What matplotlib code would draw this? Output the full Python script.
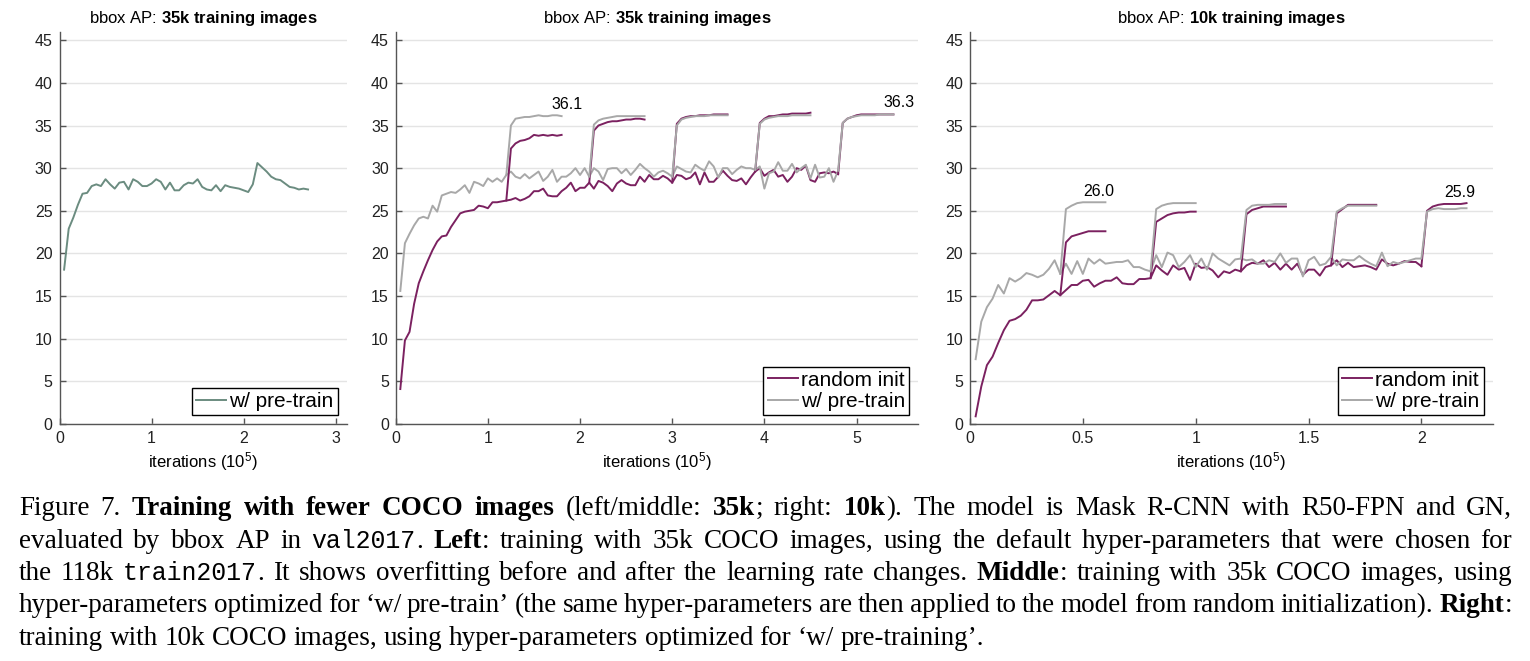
import numpy as np
import matplotlib
matplotlib.use("Agg")
import matplotlib.pyplot as plt

plt.rcParams['font.family'] = ['Liberation Sans', 'DejaVu Sans']
plt.rcParams['mathtext.fontset'] = 'custom'
plt.rcParams['mathtext.rm'] = 'Liberation Sans'
plt.rcParams['mathtext.it'] = 'Liberation Sans:italic'
plt.rcParams['mathtext.bf'] = 'Liberation Sans:bold'

W, H = 1530, 661
PURPLE = '#7b2160'
GRAY = '#a8a8a8'
GREEN = '#6b8c80'
AXCOL = '#555555'

# ---- left: 35k images, default hyper-params (x in 1e5 iterations)
left_iters = np.arange(1, 55) * 0.05
left_pre = [18.1, 22.9, 24.2, 25.7, 27.0, 27.1, 27.9, 28.1, 27.9, 28.7,
            28.1, 27.6, 28.3, 28.4, 27.5, 28.7, 28.4, 27.9, 27.9, 28.2,
            28.7, 28.4, 27.5, 28.3, 27.4, 27.4, 28.0, 28.3, 28.2, 28.7,
            27.8, 27.5, 27.4, 28.0, 27.3, 28.0, 27.8, 27.7, 27.6, 27.4,
            27.2, 28.1, 30.6, 30.1, 29.6, 29.0, 28.7, 28.6, 28.2, 27.8,
            27.7, 27.5, 27.6, 27.5]

# ---- middle: 35k images, tuned hyper-params
mid_iters = np.arange(1, 97) * 0.05
mid_rand = [4.1, 9.8, 10.8, 14.1, 16.5, 17.9, 19.2, 20.4, 21.4, 22.0,
            22.1, 23.1, 23.9, 24.7, 24.9, 25.0, 25.1, 25.6, 25.5, 25.3,
            26.0, 26.0, 26.1, 26.2, 26.3, 26.5, 26.2, 26.4, 26.7, 27.3,
            27.3, 27.6, 26.8, 26.7, 26.7, 27.3, 27.7, 28.3, 27.3, 27.7,
            27.7, 28.3, 27.6, 28.5, 28.3, 27.9, 27.3, 28.2, 28.6, 28.2,
            28.0, 28.0, 29.0, 28.4, 29.2, 28.7, 28.7, 29.1, 28.8, 28.3,
            29.2, 29.1, 28.7, 28.9, 29.5, 28.1, 29.5, 28.4, 28.4, 29.0,
            29.7, 29.1, 28.6, 28.5, 28.8, 28.1, 28.9, 29.6, 30.0, 29.1,
            29.5, 29.8, 29.0, 29.2, 28.4, 29.0, 30.0, 29.8, 30.3, 28.6,
            28.4, 29.4, 29.5, 29.4, 29.6, 29.3]
mid_pre = [15.6, 21.2, 22.3, 23.3, 24.1, 24.3, 24.1, 25.6, 24.9, 26.8,
           27.0, 27.2, 27.1, 27.5, 28.0, 27.1, 28.4, 28.2, 27.9, 28.8,
           28.4, 28.8, 28.4, 29.2, 29.6, 29.0, 28.8, 29.3, 28.8, 29.2,
           29.6, 28.5, 29.0, 29.8, 28.4, 29.0, 29.0, 29.4, 30.0, 29.2,
           30.0, 29.0, 30.0, 29.6, 28.6, 29.9, 30.0, 30.0, 29.4, 29.9,
           29.2, 29.8, 30.5, 30.0, 29.6, 29.0, 29.5, 29.7, 29.4, 29.0,
           30.2, 29.9, 29.6, 29.5, 30.4, 30.0, 29.7, 30.8, 30.2, 28.9,
           30.0, 30.0, 29.3, 29.8, 30.2, 30.0, 30.0, 29.8, 30.2, 27.6,
           29.4, 29.6, 30.7, 29.7, 29.7, 30.5, 29.5, 30.0, 30.4, 28.8,
           30.4, 28.9, 29.0, 30.0, 28.4, 29.7]
mid_starts = [1.2, 2.1, 3.0, 3.9, 4.8]
mid_branch_rand = [
    [32.3, 32.9, 33.2, 33.3, 33.5, 33.9, 33.8, 33.9, 33.8, 33.9, 33.8, 33.9],
    [34.4, 35.0, 35.2, 35.4, 35.5, 35.5, 35.6, 35.7, 35.7, 35.8, 35.8, 35.7],
    [35.2, 35.8, 36.0, 36.1, 36.1, 36.2, 36.2, 36.2, 36.3, 36.3, 36.3, 36.3],
    [35.3, 35.8, 36.1, 36.1, 36.2, 36.3, 36.3, 36.4, 36.4, 36.4, 36.4, 36.5],
    [35.3, 35.8, 36.0, 36.2, 36.3, 36.3, 36.3, 36.3, 36.3, 36.3, 36.3, 36.3],
]
mid_branch_pre = [
    [35.0, 35.8, 35.9, 36.0, 36.0, 36.1, 36.2, 36.1, 36.1, 36.2, 36.2, 36.1],
    [35.1, 35.6, 35.8, 35.9, 36.0, 36.1, 36.1, 36.1, 36.1, 36.1, 36.1, 36.1],
    [35.0, 35.7, 35.9, 36.0, 36.1, 36.1, 36.1, 36.2, 36.2, 36.2, 36.2, 36.2],
    [35.2, 35.7, 35.9, 36.0, 36.1, 36.1, 36.1, 36.2, 36.2, 36.2, 36.2, 36.2],
    [35.3, 35.8, 36.0, 36.1, 36.2, 36.2, 36.2, 36.2, 36.3, 36.3, 36.3, 36.3],
]
mid_labels = [(1.86, 37.5, '36.1'), (5.46, 37.7, '36.3')]

# ---- right: 10k images
right_iters = np.arange(1, 81) * 0.025
right_rand = [0.9, 4.4, 6.9, 7.9, 9.5, 11.0, 12.1, 12.3, 12.7, 13.4,
              14.5, 14.5, 14.6, 15.1, 15.6, 15.1, 15.7, 16.3, 16.3, 16.8,
              16.9, 16.1, 16.5, 16.8, 16.8, 17.2, 16.5, 16.4, 16.4, 17.0,
              17.0, 17.1, 18.6, 18.0, 17.5, 18.6, 18.1, 18.3, 16.9, 18.8,
              18.3, 18.4, 18.0, 17.2, 17.9, 17.7, 18.1, 17.9, 18.6, 18.9,
              18.8, 19.2, 18.4, 18.9, 18.1, 18.8, 18.1, 18.8, 17.5, 18.1,
              18.1, 17.4, 18.4, 18.6, 19.2, 18.4, 18.9, 18.4, 18.5, 18.6,
              18.4, 18.1, 19.3, 18.8, 18.6, 18.8, 19.1, 19.0, 19.0, 18.5]
right_pre = [7.6, 12.0, 13.7, 14.7, 16.3, 15.3, 17.1, 16.7, 17.1, 17.7,
             17.5, 17.2, 17.5, 18.2, 19.2, 17.6, 18.8, 17.6, 19.1, 17.6,
             19.4, 18.8, 19.3, 18.8, 18.9, 19.0, 19.0, 19.2, 18.4, 18.4,
             18.1, 17.9, 19.8, 18.4, 20.1, 19.8, 18.4, 19.0, 19.8, 18.4,
             19.4, 18.1, 20.0, 19.4, 19.0, 18.6, 19.3, 19.4, 19.2, 19.3,
             18.8, 18.8, 19.2, 19.0, 20.0, 18.9, 19.4, 19.4, 17.3, 19.2,
             19.6, 18.6, 18.8, 19.6, 18.6, 19.3, 19.2, 19.2, 19.7, 19.2,
             18.8, 18.5, 20.1, 18.5, 19.0, 18.8, 19.0, 19.2, 19.4, 19.4]
right_starts = [0.4, 0.8, 1.2, 1.6, 2.0]
right_branch_rand = [
    [21.3, 22.0, 22.2, 22.4, 22.6, 22.6, 22.6, 22.6],
    [23.7, 24.1, 24.5, 24.7, 24.8, 24.8, 24.9, 24.9],
    [24.6, 25.1, 25.3, 25.5, 25.5, 25.5, 25.5, 25.5],
    [24.7, 25.2, 25.7, 25.7, 25.7, 25.7, 25.7, 25.7],
    [25.0, 25.5, 25.7, 25.8, 25.8, 25.8, 25.8, 25.9],
]
right_branch_pre = [
    [25.2, 25.6, 25.9, 26.0, 26.0, 26.0, 26.0, 26.0],
    [25.2, 25.6, 25.8, 25.9, 25.9, 25.9, 25.9, 25.9],
    [25.1, 25.6, 25.7, 25.7, 25.7, 25.8, 25.8, 25.8],
    [24.9, 25.3, 25.6, 25.6, 25.6, 25.6, 25.6, 25.6],
    [24.9, 25.2, 25.3, 25.2, 25.2, 25.2, 25.3, 25.3],
]
right_labels = [(0.571, 27.3, '26.0'), (2.17, 27.2, '25.9')]

caption = [
    ("Figure 7. **Training with fewer COCO images** (left/middle: **35k**; right: **10k**).  The model is Mask R-CNN with R50-FPN and GN,", True),
    ("evaluated by bbox AP in `val2017`. **Left**: training with 35k COCO images, using the default hyper-parameters that were chosen for", True),
    ("the 118k `train2017`. It shows overfitting before and after the learning rate changes. **Middle**: training with 35k COCO images, using", True),
    ("hyper-parameters optimized for \u2018w/ pre-train\u2019 (the same hyper-parameters are then applied to the model from random initialization). **Right**:", True),
    ("training with 10k COCO images, using hyper-parameters optimized for \u2018w/ pre-training\u2019.", False),
]


def px_axes(x0, x1, y0=31.7, y1=424):
    return [x0 / W, 1 - y1 / H, (x1 - x0) / W, (y1 - y0) / H]


def style(ax, xmax, xticks, xlabels, title):
    ax.set_xlim(0, xmax)
    ax.set_ylim(0, 46)
    ax.set_yticks(range(0, 50, 5))
    ax.set_xticks(xticks)
    ax.set_xticklabels(xlabels)
    for s in ['top', 'right']:
        ax.spines[s].set_visible(False)
    for s in ['left', 'bottom']:
        ax.spines[s].set_color(AXCOL)
        ax.spines[s].set_linewidth(1.0)
    ax.tick_params(direction='in', length=4, width=1, color=AXCOL,
                   labelsize=11.5, labelcolor='#222222', pad=5)
    ax.yaxis.grid(True, color='#e4e4e4', lw=1)
    ax.set_axisbelow(True)
    ax.set_xlabel(r'iterations ($10^5$)', fontsize=12, labelpad=3)
    ax.set_title(r'bbox AP: $\mathbf{' + title.replace(' ', r'\ ') + '}$',
                 fontsize=12, pad=6)


def legend(ax, w_px, h_px):
    leg = ax.legend(loc='lower right', bbox_to_anchor=(1 - 9 / w_px, 9 / h_px),
                    borderaxespad=0, fontsize=15, fancybox=False,
                    edgecolor='black', framealpha=1, handlelength=1.45,
                    handletextpad=0.15, borderpad=0.2, labelspacing=0.1)
    leg.get_frame().set_linewidth(1.0)


def branches(ax, iters, base, starts, vals, step, color):
    for s, v in zip(starts, vals):
        i = int(round(s / step)) - 1
        xs = [iters[i]] + [iters[i] + step * (j + 1) for j in range(len(v))]
        ax.plot(xs, [base[i]] + v, color=color, lw=1.4)


fig = plt.figure(figsize=(W / 100, H / 100), dpi=100)

# left
ax1 = fig.add_axes(px_axes(59.5, 346.7))
ax1.plot(left_iters, left_pre, color=GREEN, lw=1.4, label='w/ pre-train')
style(ax1, 3.12, [0, 1, 2, 3], ['0', '1', '2', '3'], '35k training images')
legend(ax1, 346.7 - 59.5, 392.3)

# middle
ax2 = fig.add_axes(px_axes(395.7, 918.3))
ax2.plot(mid_iters, mid_rand, color=PURPLE, lw=1.4, label='random init')
ax2.plot(mid_iters, mid_pre, color=GRAY, lw=1.4, label='w/ pre-train')
branches(ax2, mid_iters, mid_rand, mid_starts, mid_branch_rand, 0.05, PURPLE)
branches(ax2, mid_iters, mid_pre, mid_starts, mid_branch_pre, 0.05, GRAY)
for x, y, s in mid_labels:
    ax2.text(x, y, s, fontsize=11.5, ha='center', va='center')
style(ax2, 5.67, [0, 1, 2, 3, 4, 5], ['0', '1', '2', '3', '4', '5'], '35k training images')
legend(ax2, 522.6, 392.3)

# right
ax3 = fig.add_axes(px_axes(970, 1492.7))
ax3.plot(right_iters, right_rand, color=PURPLE, lw=1.4, label='random init')
ax3.plot(right_iters, right_pre, color=GRAY, lw=1.4, label='w/ pre-train')
branches(ax3, right_iters, right_rand, right_starts, right_branch_rand, 0.025, PURPLE)
branches(ax3, right_iters, right_pre, right_starts, right_branch_pre, 0.025, GRAY)
for x, y, s in right_labels:
    ax3.text(x, y, s, fontsize=11.5, ha='center', va='center')
style(ax3, 2.316, [0, 0.5, 1, 1.5, 2], ['0', '0.5', '1', '1.5', '2'], '10k training images')
legend(ax3, 522.7, 392.3)


# ---- caption, justified by hand
def parse(line):
    words, cur, buf, st = [], [], '', 'n'
    i = 0
    while i < len(line):
        if line.startswith('**', i) or line[i] == '`':
            if buf:
                cur.append((buf, st))
                buf = ''
            tag = 'b' if line[i] == '*' else 'm'
            st = 'n' if st == tag else tag
            i += 2 if tag == 'b' else 1
            continue
        if line[i] == ' ':
            if buf:
                cur.append((buf, st))
                buf = ''
            if cur:
                words.append(cur)
                cur = []
        else:
            buf += line[i]
        i += 1
    if buf:
        cur.append((buf, st))
    if cur:
        words.append(cur)
    return words


fonts = {'n': dict(family='Liberation Serif'),
         'b': dict(family='Liberation Serif', weight='bold'),
         'm': dict(family='Liberation Mono')}
cap_size = 19.5
cap_x0, cap_x1 = 19, 1512
cap_base, cap_step = 515, 32.5

renderer = fig.canvas.get_renderer()
for row, (line, justify) in enumerate(caption):
    y = 1 - (cap_base + row * cap_step) / H
    words = []
    for word in parse(line):
        pieces = []
        for text, st in word:
            kw = dict(fonts[st])
            size = cap_size * (0.92 if st == 'm' else 1.0)
            t = fig.text(0, y, text, fontsize=size, va='baseline', ha='left', **kw)
            pieces.append((t, t.get_window_extent(renderer).width))
        words.append(pieces)
    widths = [sum(w for _, w in p) + 0.5 * (len(p) - 1) for p in words]
    if justify:
        gap = (cap_x1 - cap_x0 - sum(widths)) / (len(words) - 1)
    else:
        gap = 6.5
    x = cap_x0
    for pieces, wd in zip(words, widths):
        xx = x
        for t, w in pieces:
            t.set_x(xx / W)
            xx += w + 0.5
        x += wd + gap

fig.savefig('out.png', dpi=100)
